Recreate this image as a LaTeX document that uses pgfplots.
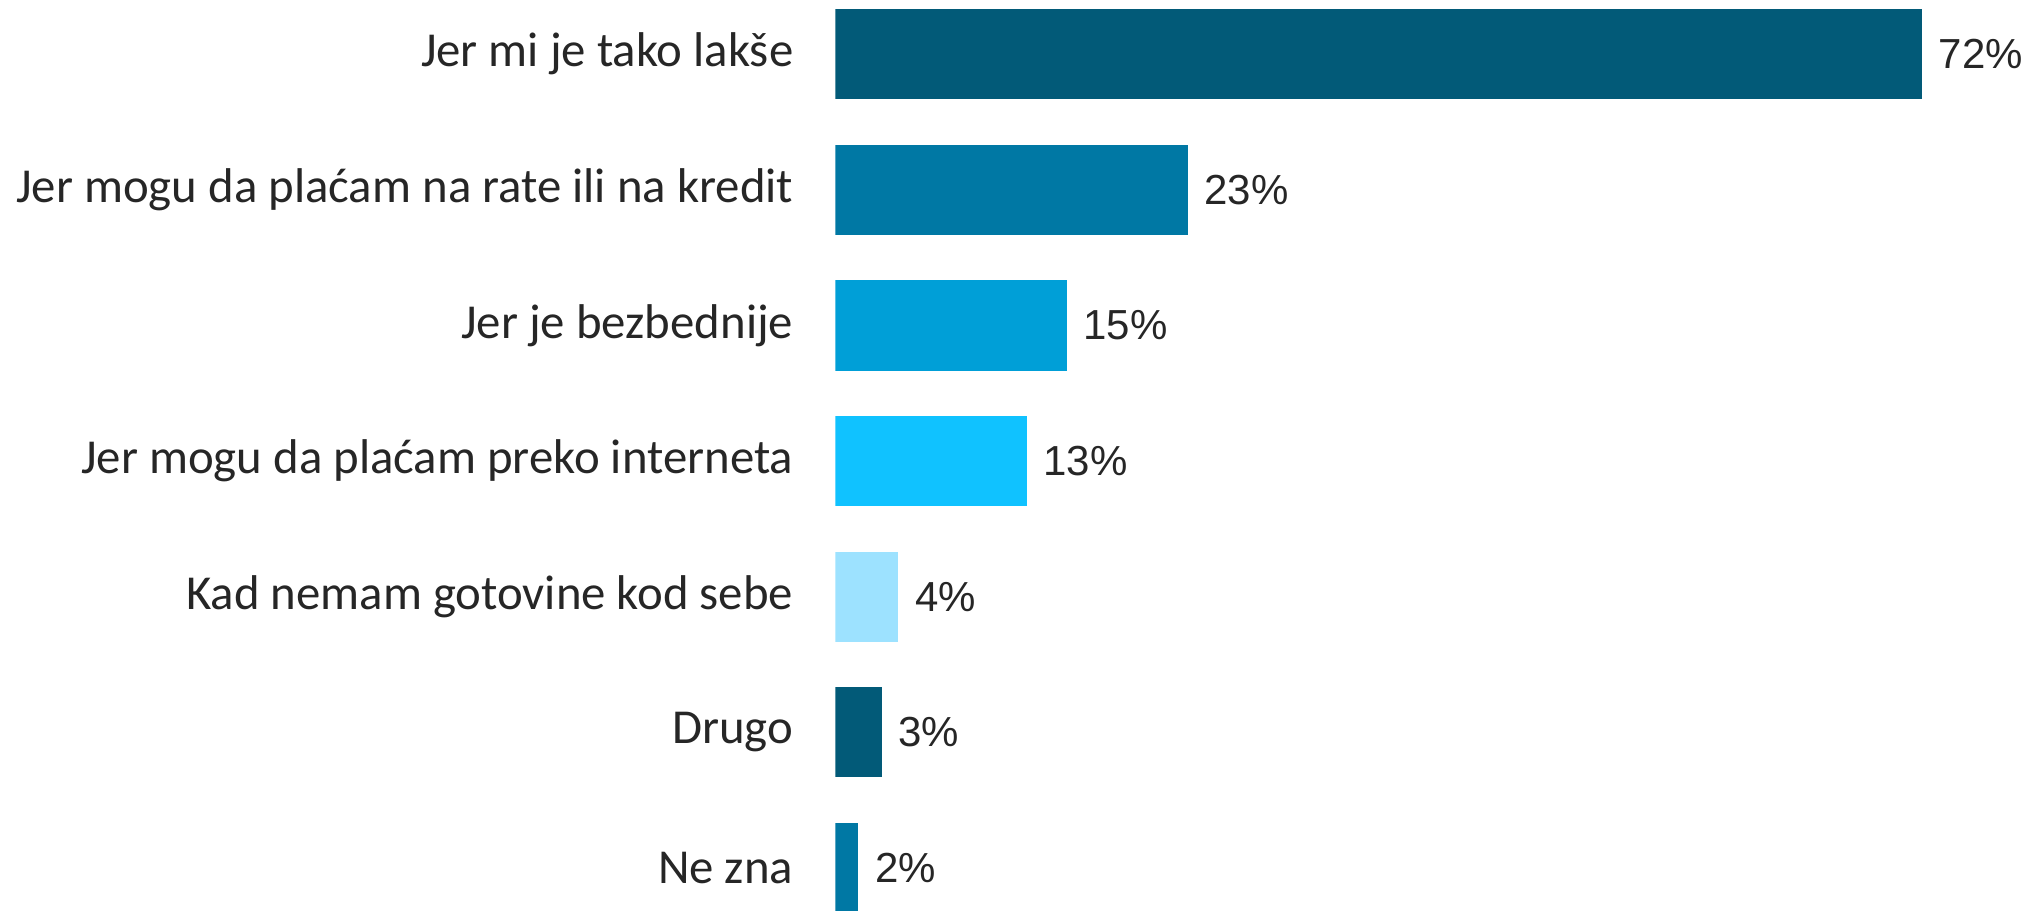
\documentclass[border=0pt]{standalone}
\usepackage{pgfplots}
\pgfplotsset{compat=1.18}
\usepackage{fontspec}
\setmainfont{Liberation Sans}
\newfontfamily\calfont{Carlito}
\definecolor{c1}{HTML}{025A78}
\definecolor{c2}{HTML}{0078A4}
\definecolor{c3}{HTML}{009FD7}
\definecolor{c4}{HTML}{10C2FF}
\definecolor{c5}{HTML}{9DE2FF}
\definecolor{tc}{HTML}{262626}
\begin{document}
\begin{tikzpicture}
\begin{axis}[
  name=ax, at={(0,0)}, anchor=south west,
  scale only axis, width=298.875pt, height=227.5pt,
  xbar, bar shift=0pt, bar width=0.664,
  xmin=0, xmax=79.23, ymin=-0.400, ymax=6.31,
  y dir=reverse, enlargelimits=false,
  axis line style={draw=none}, tick style={draw=none},
  xtick=\empty,
  ytick={0,...,6},
  yticklabels={Jer mi je tako lakše, Jer mogu da plaćam na rate ili na kredit, Jer je bezbednije, Jer mogu da plaćam preko interneta, Kad nemam gotovine kod sebe, Drugo, Ne zna},
  yticklabel style={font=\calfont\fontsize{12.2}{14}\selectfont, text=tc, anchor=east, inner sep=0pt, xshift=-6.1pt},
  point meta=explicit,
  nodes near coords={\pgfmathprintnumber[assume math mode=true]{\pgfplotspointmeta}\%},
  nodes near coords style={anchor=west, inner sep=0pt, xshift=4.0pt, font=\fontsize{10.5}{12}\selectfont, text=tc},
  every axis plot/.append style={draw=none},
]
\addplot[fill=c1] coordinates {(72,0) [72]};
\addplot[fill=c2] coordinates {(23.35,1) [23]};
\addplot[fill=c3] coordinates {(15.33,2) [15]};
\addplot[fill=c4] coordinates {(12.68,3) [13]};
\addplot[fill=c5] coordinates {(4.17,4) [4]};
\addplot[fill=c1] coordinates {(3.05,5) [3]};
\addplot[fill=c2] coordinates {(1.52,6) [2]};
\end{axis}
\pgfresetboundingbox
\path[use as bounding box] (-208.875pt,0) rectangle (298.875pt,227.5pt);
\end{tikzpicture}
\end{document}
